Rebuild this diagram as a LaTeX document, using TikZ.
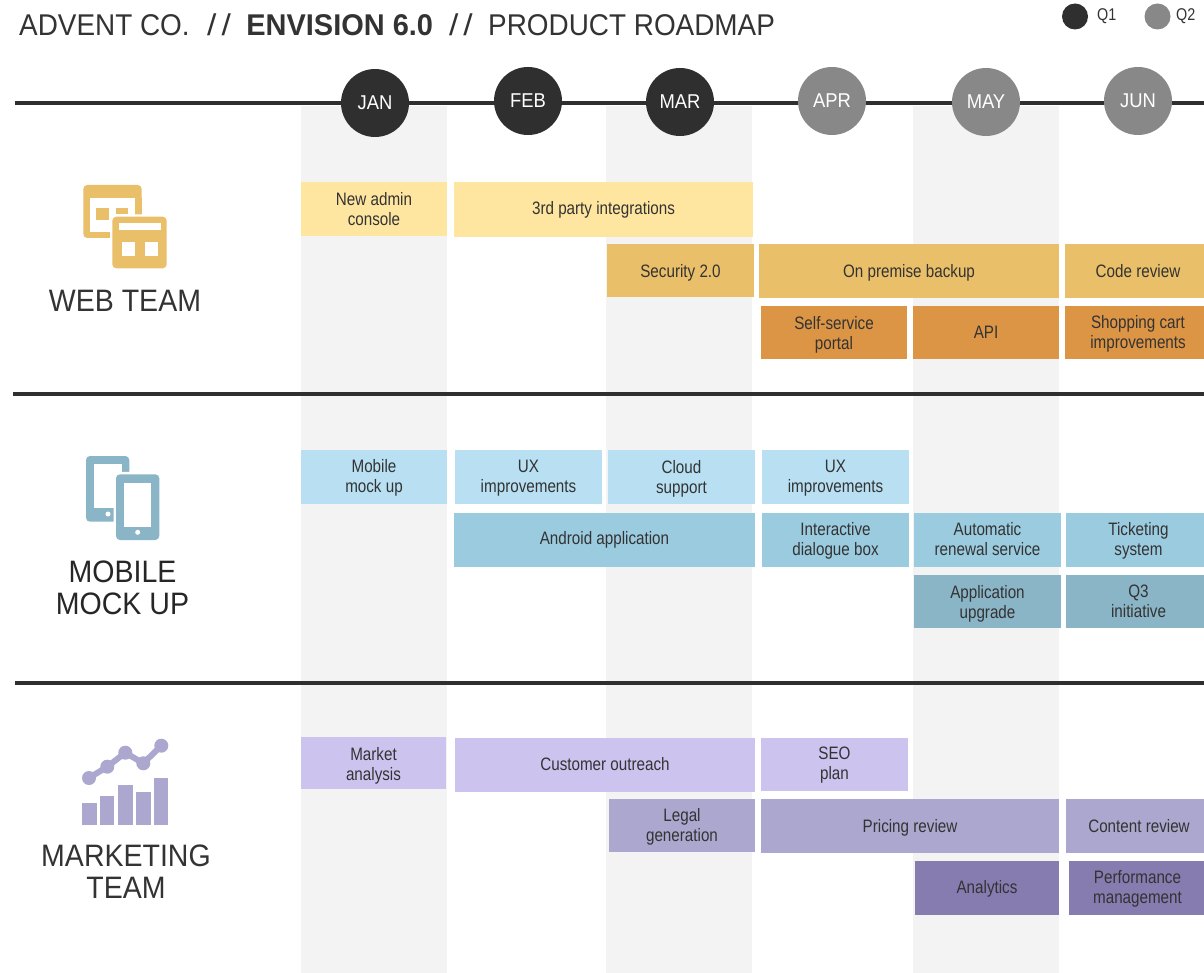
\documentclass[tikz,border=0pt]{standalone}
\usepackage{fontspec}
\setmainfont{Liberation Sans}
\newfontfamily\condfont[FakeStretch=0.845]{Liberation Sans}
\newfontfamily\wideA[FakeStretch=0.92]{Liberation Sans}
\newfontfamily\titlefont[FakeStretch=0.93]{Liberation Sans}
\newfontfamily\titlebold[FakeStretch=0.965,UprightFont={* Bold}]{Liberation Sans}
\newfontfamily\slashfont[FakeStretch=1.12]{Liberation Sans}
\definecolor{ink}{HTML}{333333}
\definecolor{darkdot}{HTML}{2F2F2F}
\definecolor{greydot}{HTML}{888888}
\definecolor{colbg}{HTML}{F3F3F3}
\definecolor{yA}{HTML}{FFE6A0}
\definecolor{yB}{HTML}{EABF69}
\definecolor{yC}{HTML}{DC9545}
\definecolor{bA}{HTML}{B8E0F2}
\definecolor{bB}{HTML}{9BCBDF}
\definecolor{bC}{HTML}{8AB5C6}
\definecolor{pA}{HTML}{CCC4EF}
\definecolor{pB}{HTML}{ACA7CE}
\definecolor{pC}{HTML}{867CB0}
\tikzset{
  tk/.style={rectangle,inner sep=0pt,outer sep=0pt,anchor=north west,align=center,text=ink,
    font=\condfont\fontsize{18}{20}\selectfont},
  ycol/.style={tk,fill=#1},
  col/.style={rectangle,inner sep=0pt,outer sep=0pt,anchor=north west,fill=colbg},
  rule/.style={draw=darkdot,line width=3.2pt},
  mon/.style={circle,inner sep=0pt,minimum size=68pt,text=white,font=\wideA\fontsize{20}{24}\selectfont},
  qdot/.style={circle,inner sep=0pt,minimum size=26pt},
  qtext/.style={text=ink,inner sep=0pt,font=\condfont\fontsize{17}{18}\selectfont},
  team/.style={align=center,inner sep=0pt,text=ink,font=\wideA\fontsize{31}{32}\selectfont},
}
\newcommand{\tbox}[8][0]{\node[ycol=#7,minimum width={#5pt-#3pt},minimum height={#6pt-#4pt}] (#2) at (#3,#4) {\rule{0pt}{\dimexpr15pt+#1pt+#1pt\relax}#8\rule[-2pt]{0pt}{2pt}};}
\newcommand{\cbox}[3]{\node[col,minimum width={#3pt-#2pt},minimum height={973pt-106pt}] (#1) at (#2,106) {};}
\newcommand{\dslash}{{\slashfont /\kern5pt/}}
\begin{document}
\begin{tikzpicture}[x=1pt,y=-1pt]
\useasboundingbox (0,0) rectangle (1204,973);
\clip (0,0) rectangle (1204,973);
\fill[white] (0,0) rectangle (1204,973);
% columns
\cbox{colJan}{301}{447}
\cbox{colMar}{606}{752}
\cbox{colMay}{913}{1059}
% rules
\coordinate (tlA) at (15,103);
\coordinate (tlB) at (1204,103);
\coordinate (rAa) at (13,394);
\coordinate (rAb) at (1204,394);
\coordinate (rBa) at (15,683);
\coordinate (rBb) at (1204,683);
\draw[rule] (tlA) -- (tlB);
\draw[rule] (rAa) -- (rAb);
\draw[rule] (rBa) -- (rBb);
% title
\node[anchor=base west,inner sep=0pt,text=ink,font=\titlefont\fontsize{30}{32}\selectfont] (title) at (19,36)
 {ADVENT CO.\hspace{17.5pt}\dslash\hspace{15.5pt}{\titlebold ENVISION 6.0}\hspace{16pt}\dslash\hspace{15.5pt}PRODUCT ROADMAP};
% legend
\node[qdot,fill=darkdot] (qa) at (1075,16.5) {};
\node[qtext,anchor=west] (qat) at (1097,16.5) {Q1};
\node[qdot,fill=greydot] (qb) at (1157.5,16.5) {};
\node[qtext,anchor=west] (qbt) at (1176,16.5) {Q2};
% months
\node[mon,fill=darkdot] (jan) at (375,103) {JAN};
\node[mon,fill=darkdot] (feb) at (528,101) {FEB};
\node[mon,fill=darkdot] (mar) at (680,102) {MAR};
\node[mon,fill=greydot] (apr) at (832,101) {APR};
\node[mon,fill=greydot] (may) at (986,102) {MAY};
\node[mon,fill=greydot] (jun) at (1138,101) {JUN};
% web
\tbox{wa}{301}{182}{447}{236}{yA}{New admin\\console}
\tbox[-1]{wb}{454}{182}{753}{237}{yA}{3rd party integrations}
\tbox[1]{wc}{607}{244}{754}{297}{yB}{Security 2.0}
\tbox[1]{wd}{759}{244}{1059}{298}{yB}{On premise backup}
\tbox{we}{1065}{244}{1211}{298}{yB}{Code review}
\tbox[1]{wf}{761}{306}{907}{359}{yC}{Self-service\\portal}
\tbox[-1]{wg}{913}{306}{1059}{359}{yC}{API}
\tbox{wh}{1065}{306}{1211}{359}{yC}{Shopping cart\\improvements}
% mobile
\tbox{ma}{301}{450}{447}{504}{bA}{Mobile\\mock up}
\tbox{mb}{455}{450}{602}{504}{bA}{UX\\improvements}
\tbox[1]{mc}{608}{450}{755}{504}{bA}{Cloud\\support}
\tbox{md}{762}{450}{909}{504}{bA}{UX\\improvements}
\tbox[-1]{me}{454}{513}{755}{567}{bB}{Android application}
\tbox{mf}{762}{513}{909}{567}{bB}{Interactive\\dialogue box}
\tbox[-1]{mg}{914}{513}{1061}{567}{bB}{Automatic\\renewal service}
\tbox{mh}{1066}{513}{1211}{567}{bB}{Ticketing\\system}
\tbox[1]{mi}{914}{575}{1061}{628}{bC}{Application\\upgrade}
\tbox[-1]{mj}{1066}{575}{1211}{628}{bC}{Q3\\initiative}
% marketing
\tbox[2]{ka}{301}{737}{446}{789}{pA}{Market\\analysis}
\tbox[-2]{kb}{455}{738}{755}{792}{pA}{Customer outreach}
\tbox[-1]{kc}{761}{738}{908}{791}{pA}{SEO\\plan}
\tbox{kd}{609}{799}{755}{852}{pB}{Legal\\generation}
\tbox[1]{ke}{761}{799}{1059}{853}{pB}{Pricing review}
\tbox{kf}{1066}{799}{1212}{853}{pB}{Content review}
\tbox{kg}{915}{861}{1059}{915}{pC}{Analytics}
\tbox{kh}{1069}{861}{1206}{915}{pC}{Performance\\management}
% team labels
\node[team] (tWeb) at (125,301) {WEB TEAM};
\node[team,text=black!85] (tMob) at (122.5,588) {MOBILE\\MOCK UP};
\node[team] (tMkt) at (126,872) {MARKETING\\TEAM};
% web icon
\fill[yB,rounded corners=4pt] (83.3,185) rectangle (141.7,238);
\fill[white] (90,198) rectangle (135,232);
\fill[yB] (96,208) rectangle (109,220);
\fill[yB] (115.7,208) rectangle (128.3,214);
\fill[yB] (135,198) rectangle (141.7,216);
\fill[white,rounded corners=4pt] (110,214.5) rectangle (169,270.5);
\fill[yB,rounded corners=4pt] (112.3,216.7) rectangle (166.7,268.3);
\fill[white] (119,223) rectangle (160.7,230);
\fill[white] (122,242.3) rectangle (135,255.7);
\fill[white] (144.6,242.3) rectangle (157.7,255.7);
% phone icon
\fill[bC,rounded corners=4pt] (86,456) rectangle (129.3,521.7);
\fill[white] (94.3,464.3) rectangle (121.7,508.3);
\fill[white] (108,514) circle (2.5);
\fill[white,rounded corners=4pt] (113.5,471.8) rectangle (161.8,542.5);
\fill[bC,rounded corners=4pt] (116,474.3) rectangle (159.3,540);
\fill[white] (124.3,482.7) rectangle (151.3,526.7);
\fill[white] (137.7,532.3) circle (2.5);
% marketing icon
\fill[pB] (82.3,803.3) rectangle (96.7,824.7);
\fill[pB] (100.3,796.3) rectangle (114.3,824.7);
\fill[pB] (118,785.3) rectangle (132.7,824.7);
\fill[pB] (136,792.3) rectangle (150.7,824.7);
\fill[pB] (154,778) rectangle (168.3,824.7);
\draw[pB,line width=6pt] (89,778) -- (107.3,766.7) -- (125.3,752.7) -- (143.3,763.3) -- (161.3,745.7);
\foreach \p in {(89,778),(107.3,766.7),(125.3,752.7),(143.3,763.3),(161.3,745.7)} \fill[pB] \p circle (7);
\end{tikzpicture}
\end{document}
